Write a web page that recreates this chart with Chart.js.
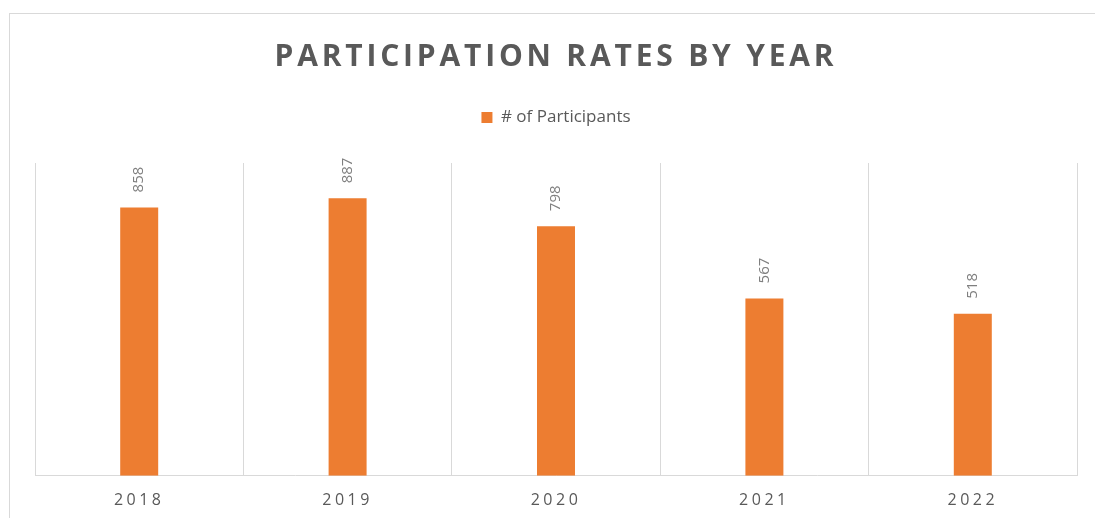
<!DOCTYPE html>
<html><head><meta charset="utf-8">
<script src="https://cdn.jsdelivr.net/npm/chart.js@4.4.1/dist/chart.umd.min.js"></script>
<style>
html,body{margin:0;padding:0;background:#fff;overflow:hidden;width:1095px;height:518px}
#frame{position:absolute;left:9px;top:13px;width:1200px;height:600px;border-top:1px solid #d9d9d9;border-left:1px solid #d9d9d9;}
#wrap{position:absolute;left:0;top:0;width:1095px;height:518px}
</style></head><body>
<div id="frame"></div>
<div id="wrap"><canvas id="c" width="1095" height="518"></canvas></div>
<script>
const chartTitle = 'PARTICIPATION RATES BY YEAR';
const seriesName = '# of Participants';
const years = ['2018', '2019', '2020', '2021', '2022'];
const participants = [858, 887, 798, 567, 518];
const yMin = 0;
const yMax = 1000;

const FONT = "'Open Sans', sans-serif";
const LEGEND_EXTRA = 27;

const tweaks = {
  id: 'tweaks',
  afterInit(chart) {
    const t = chart.titleBlock;
    const tDraw = t.draw;
    t.draw = function (...a) { const ctx = this.ctx; ctx.save(); ctx.letterSpacing = '3.8px'; tDraw.apply(this, a); ctx.restore(); };
    const lg = chart.legend;
    const lgFit = lg.fit;
    lg.fit = function (...a) { lgFit.apply(this, a); if (this.isHorizontal()) this.height += LEGEND_EXTRA; };
  },
  beforeDraw(chart) {
    const x = chart.scales.x;
    if (x && !x._spaced) {
      const d = x.drawLabels;
      x.drawLabels = function (...a) { const ctx = this.ctx; ctx.save(); ctx.letterSpacing = '3.5px'; d.apply(this, a); ctx.restore(); };
      x._spaced = true;
    }
  },
  afterDatasetsDraw(chart) {
    const ctx = chart.ctx;
    const meta = chart.getDatasetMeta(0);
    ctx.save();
    ctx.font = "15px " + FONT;
    ctx.fillStyle = '#7f7f7f';
    ctx.textAlign = 'left';
    ctx.textBaseline = 'middle';
    meta.data.forEach((bar, i) => {
      ctx.save();
      ctx.translate(bar.x, bar.y - 15);
      ctx.rotate(-Math.PI / 2);
      ctx.fillText(String(chart.data.datasets[0].data[i]), 0, 0);
      ctx.restore();
    });
    ctx.restore();
  }
};

new Chart(document.getElementById('c'), {
  type: 'bar',
  data: {
    labels: years,
    datasets: [{
      label: seriesName,
      data: participants,
      backgroundColor: '#ED7D31',
      borderWidth: 0,
      barPercentage: 0.1823,
      categoryPercentage: 1.0
    }]
  },
  options: {
    responsive: false,
    animation: false,
    devicePixelRatio: 1,
    layout: { padding: { left: 35, right: 18, top: 0, bottom: -7 } },
    plugins: {
      title: {
        display: true, text: chartTitle, color: '#595959',
        font: { family: FONT, size: 30, weight: 'bold', lineHeight: 1.2 },
        padding: { top: 39, bottom: 24 }
      },
      legend: {
        display: true,
        labels: { boxWidth: 11, boxHeight: 11, color: '#595959', font: { family: FONT, size: 17 }, padding: 10 }
      },
      tooltip: { enabled: false }
    },
    scales: {
      x: {
        offset: true,
        grid: { offset: true, color: '#d9d9d9', lineWidth: 1, drawTicks: false },
        border: { display: true, color: '#d9d9d9' },
        ticks: { color: '#595959', font: { family: FONT, size: 16 }, padding: 15, labelOffset: 0 }
      },
      y: { display: false, min: yMin, max: yMax }
    }
  },
  plugins: [tweaks]
});
</script>
</body></html>
